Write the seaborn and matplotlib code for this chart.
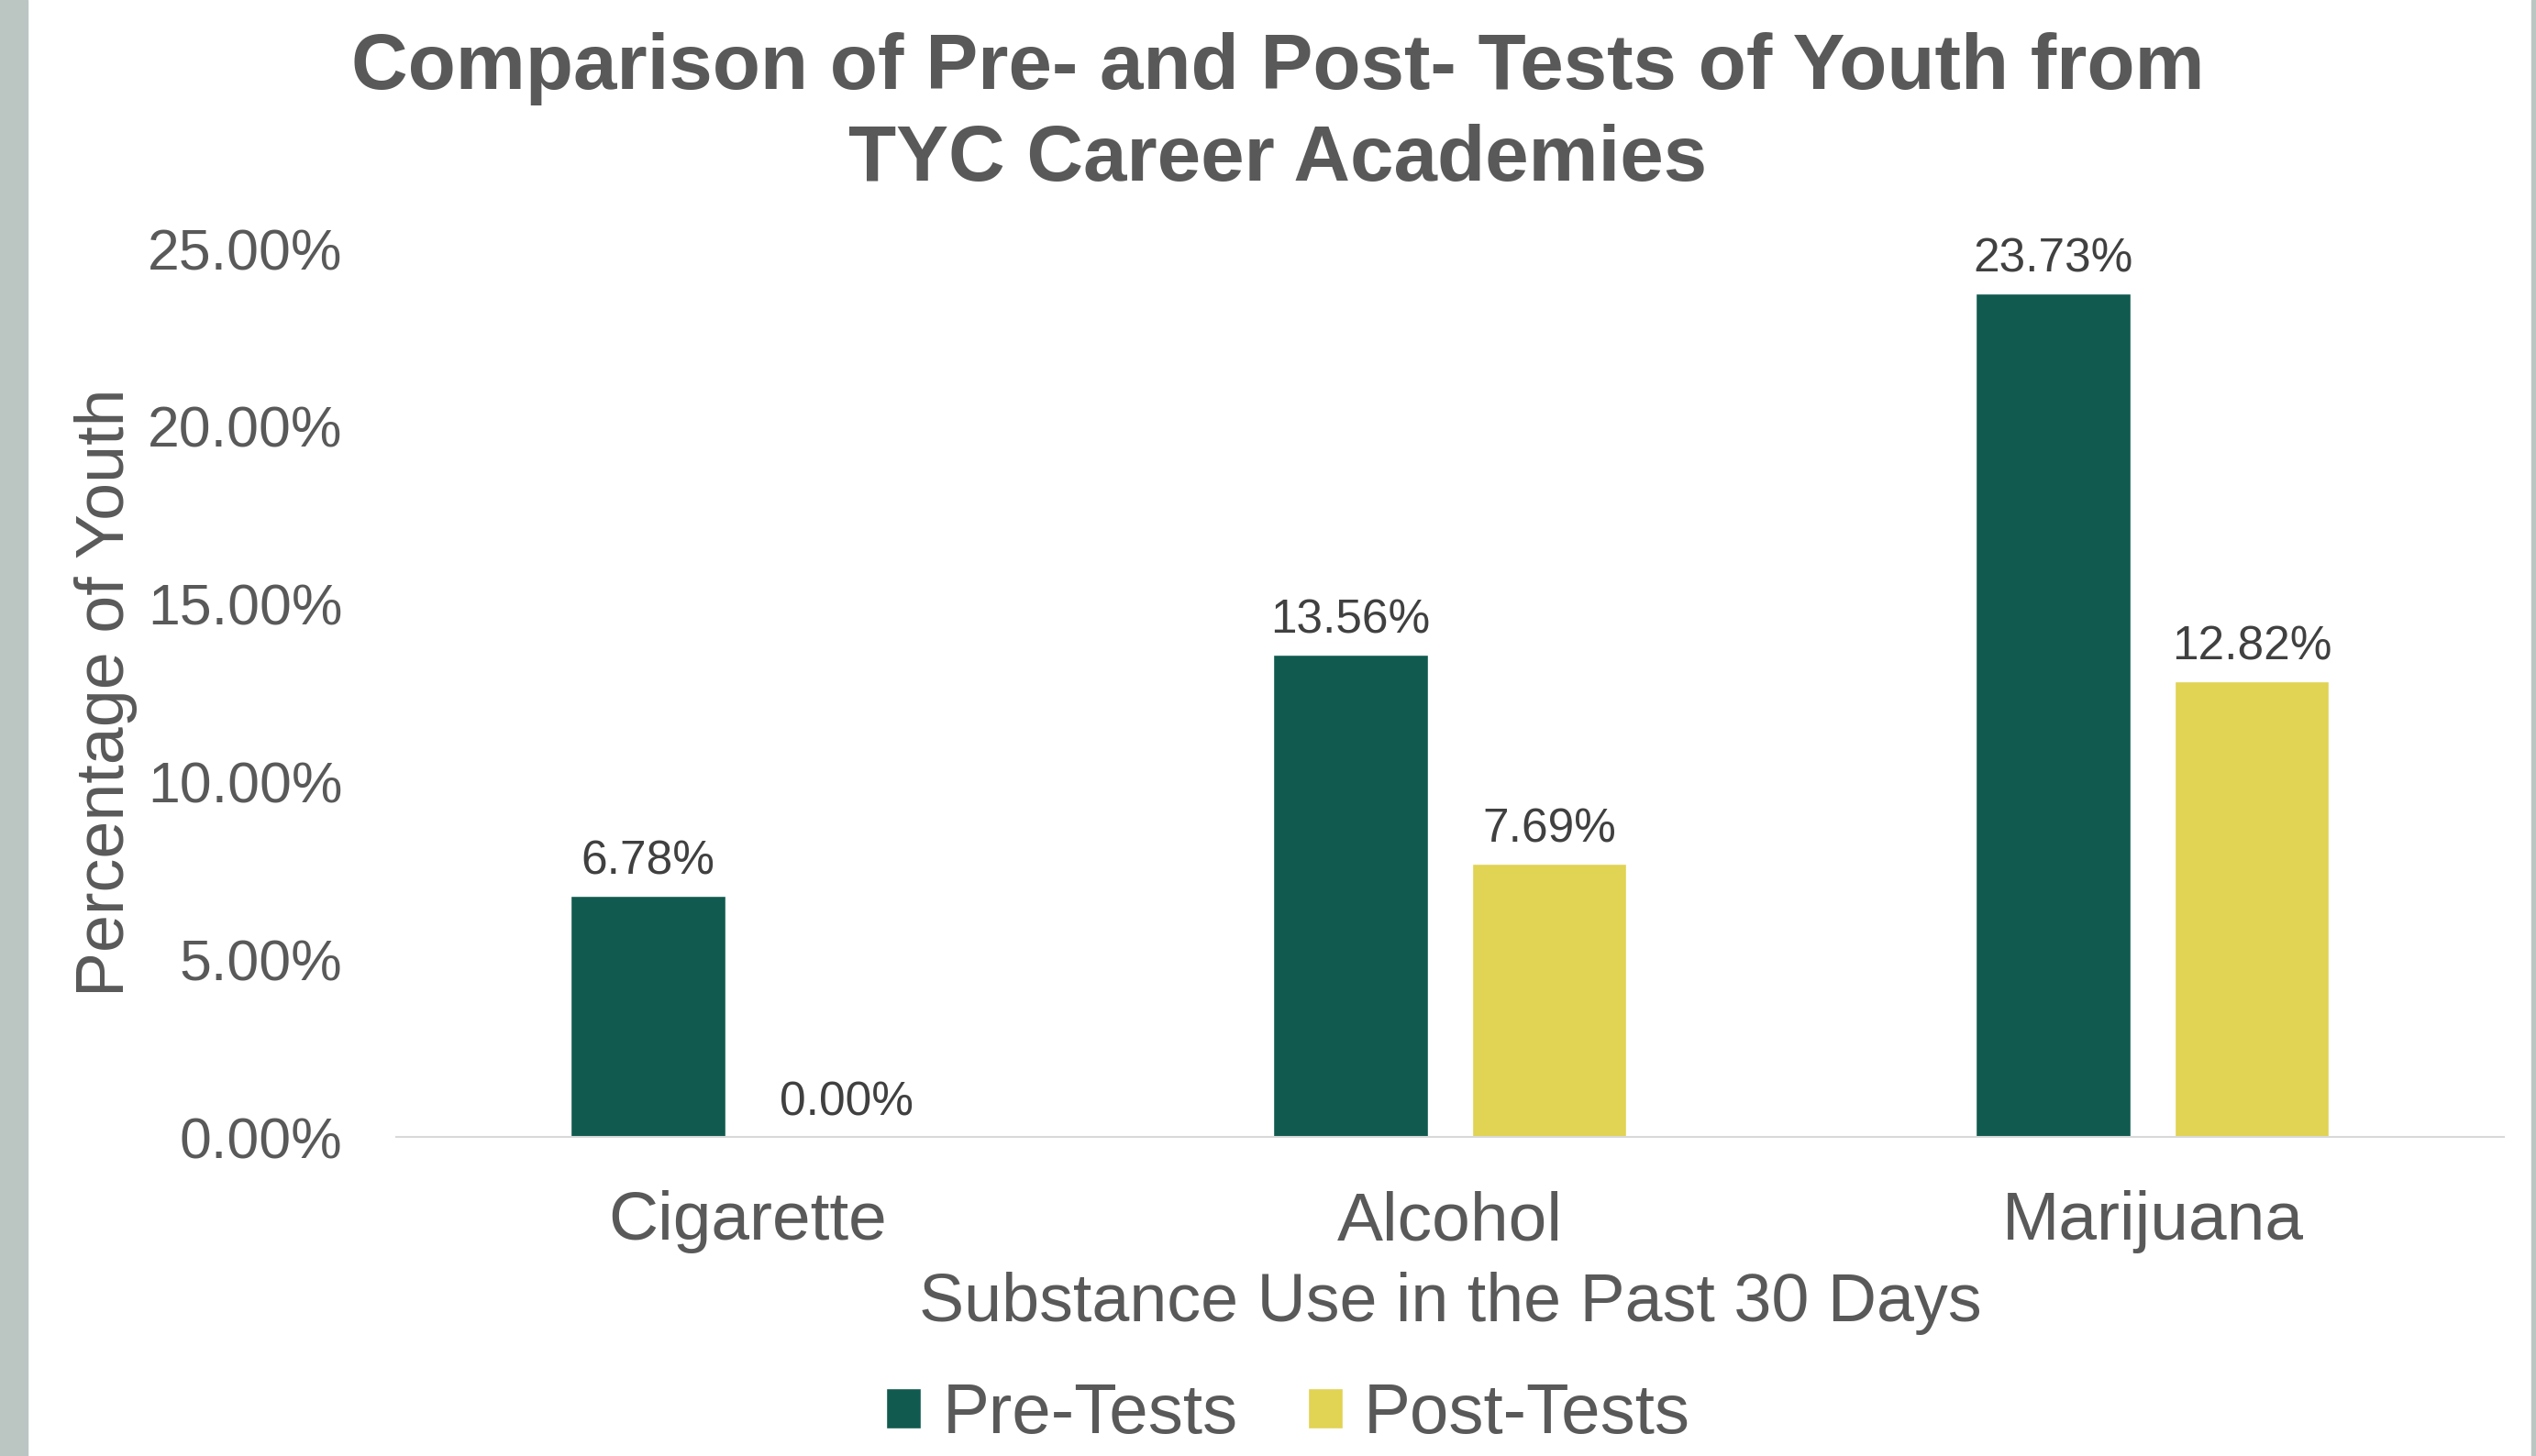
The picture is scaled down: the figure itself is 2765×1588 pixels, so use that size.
import pandas as pd
import matplotlib
matplotlib.use("Agg")
import matplotlib.pyplot as plt
import seaborn as sns
from matplotlib.patches import Rectangle
from matplotlib.ticker import FuncFormatter

# -------------------------------
# Data
# -------------------------------
substances = ["Cigarette", "Alcohol", "Marijuana"]
pre_tests = [0.0678, 0.1356, 0.2373]
post_tests = [0.0, 0.0769, 0.1282]
series_names = ["Pre-Tests", "Post-Tests"]
y_ticks = [0.0, 0.05, 0.10, 0.15, 0.20, 0.25]

df = pd.DataFrame({
    "substance": substances * 2,
    "pct": pre_tests + post_tests,
    "test": [series_names[0]] * 3 + [series_names[1]] * 3,
})

# -------------------------------
# Style
# -------------------------------
sns.set_theme(style="white")
plt.rcParams["font.family"] = ["Liberation Sans", "DejaVu Sans"]

GREEN = "#115A4F"
YELLOW = "#E1D353"
TEXT = "#595959"

fig = plt.figure(figsize=(27.65, 15.88), dpi=100)
ax = fig.add_axes([0.1562, 0.2191, 0.8311, 0.6102])

# gray side strips
fig.patches.append(Rectangle((0, 0), 30 / 2765, 1, transform=fig.transFigure,
                             color="#BBC6C3", zorder=0))
fig.patches.append(Rectangle((1 - 5 / 2765, 0), 5 / 2765, 1, transform=fig.transFigure,
                             color="#BBC6C3", zorder=0))

# -------------------------------
# Bars
# -------------------------------
sns.barplot(data=df, x="substance", y="pct", hue="test",
            palette=[GREEN, YELLOW], width=0.566, gap=0.223,
            saturation=1, ax=ax)

for c in ax.containers:
    ax.bar_label(c, labels=[f"{v * 100:.2f}%" for v in c.datavalues],
                 padding=9, fontsize=37, color="#404040")

# -------------------------------
# Axes
# -------------------------------
ax.set_xlim(-0.5, 2.5)
ax.set_ylim(0, 0.25)
ax.set_yticks(y_ticks)
ax.yaxis.set_major_formatter(FuncFormatter(lambda v, p: f"{v * 100:.2f}%"))
ax.tick_params(axis="y", length=0, pad=42, labelsize=45, labelcolor=TEXT)
ax.tick_params(axis="x", length=0, pad=42, labelsize=54, labelcolor=TEXT)
ax.grid(False)

for s in ["top", "right", "left"]:
    ax.spines[s].set_visible(False)
ax.spines["bottom"].set_color("#D9D9D9")
ax.spines["bottom"].set_linewidth(1.5)

ax.set_xlabel("Substance Use in the Past 30 Days", fontsize=53, color=TEXT, va="center")
ax.xaxis.set_label_coords(0.5, -0.187)
ax.set_ylabel("Percentage of Youth", fontsize=53, color=TEXT, ha="center", va="center")
ax.yaxis.set_label_coords(-0.1378, 0.5)

fig.text(0.504, 0.978, "Comparison of Pre- and Post- Tests of Youth from\nTYC Career Academies",
         ha="center", va="top", fontsize=61.5, fontweight="bold", color=TEXT, linespacing=1.32)

sns.move_legend(ax, "center", bbox_to_anchor=(0.508, 0.028), bbox_transform=fig.transFigure,
                ncol=2, frameon=False, title=None, fontsize=55, labelcolor=TEXT,
                handlelength=0.5, handleheight=0.5, handletextpad=0.3, columnspacing=1.0)

fig.savefig("out.png", dpi=100)
